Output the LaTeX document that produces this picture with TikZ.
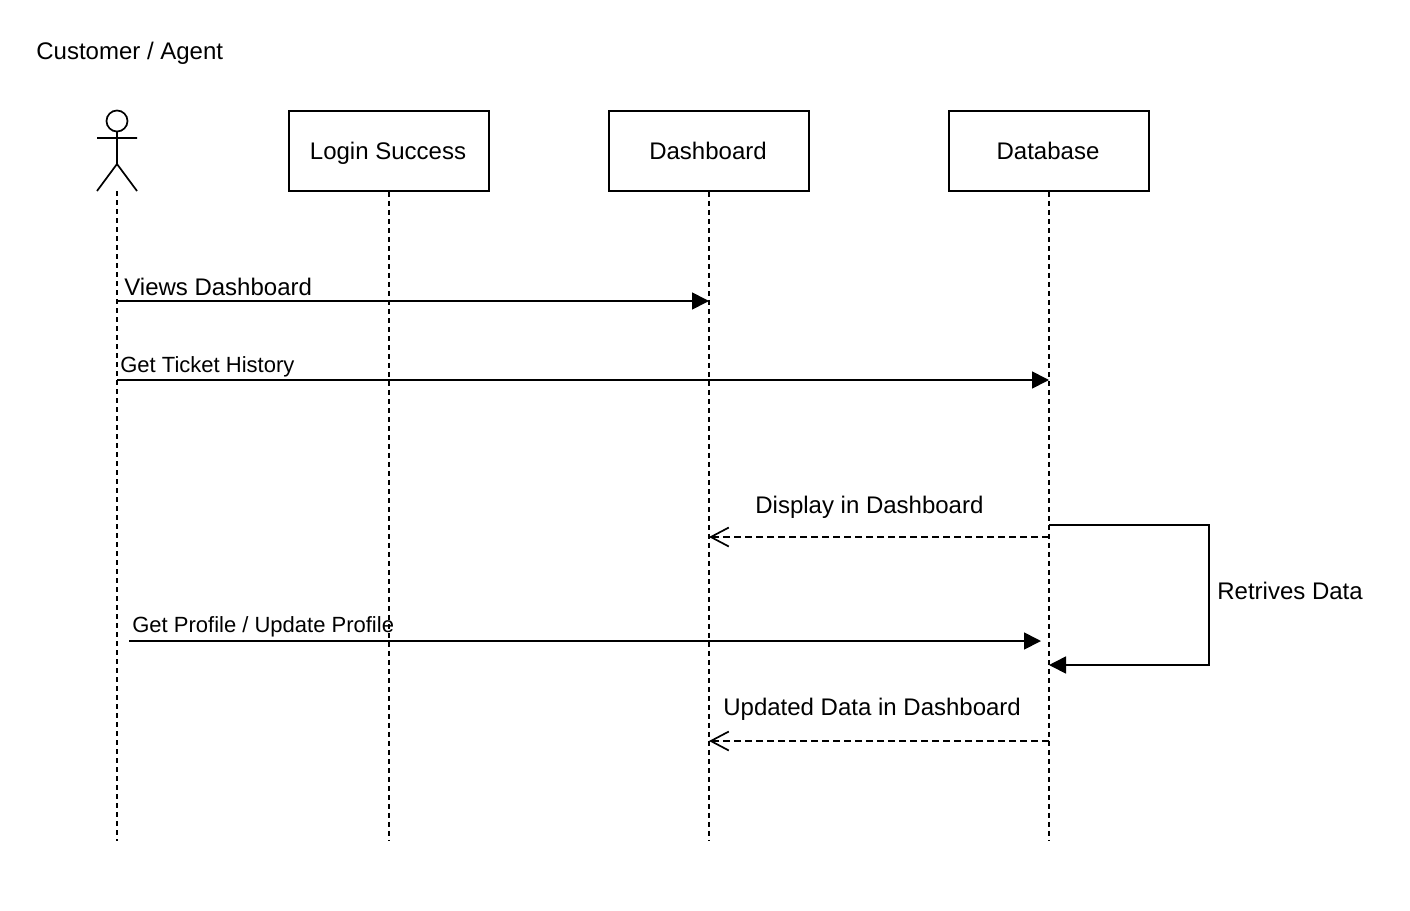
\documentclass[tikz,border=0pt]{standalone}
\usepackage{fontspec}
\setmainfont{Liberation Sans}
\usetikzlibrary{arrows.meta}
\begin{document}
\begin{tikzpicture}[x=1pt,y=-1pt,line width=1.7pt,
 box/.style={draw,minimum width=200pt,minimum height=80pt,inner sep=0pt,text height=17.2pt,text depth=0pt,font=\fontsize{24}{28}\selectfont},
 lab/.style={inner sep=0pt,anchor=base west},
 big/.style={font=\fontsize{24}{28}\selectfont},
 small/.style={font=\fontsize{22}{26}\selectfont},
 life/.style={dash pattern=on 5pt off 4pt},
 msg/.style={-{Triangle[length=17pt,width=17pt]}},
 ret/.style={dash pattern=on 7pt off 4pt,-{Straight Barb[length=18pt,width=19pt,line width=1.7pt]}}]
\useasboundingbox (0,0) rectangle (1410,910);
\node[lab,big] (title) at (35.5,59) {Customer / Agent};
\coordinate (head) at (117,121);
\draw (head) circle (10.5);
\coordinate (neck) at (117,131.5);
\coordinate (hip) at (117,164);
\coordinate (armL) at (97,138);
\coordinate (armR) at (137,138);
\coordinate (footL) at (97,191);
\coordinate (footR) at (137,191);
\coordinate (a) at (117,191);
\draw (neck)--(hip) (armL)--(armR) (footL)--(hip)--(footR);
\node[box] (ls) at (389,151) {\kern-2pt Login Success};
\node[box] (db) at (709,151) {\kern-2pt Dashboard};
\node[box] (dt) at (1049,151) {\kern-2pt Database};
\coordinate (aE) at (117,841);\coordinate (lsE) at (389,841);\coordinate (dbE) at (709,841);\coordinate (dtE) at (1049,841);
\draw[life] (a)--(aE) (ls.south)--(lsE) (db.south)--(dbE) (dt.south)--(dtE);
\coordinate (m1a) at (117,301);\coordinate (m1b) at (709,301);
\draw[msg] (m1a)--(m1b);
\node[lab,big] (l1) at (123.5,295) {Views Dashboard};
\coordinate (m2a) at (117,380);\coordinate (m2b) at (1049,380);
\draw[msg] (m2a)--(m2b);
\node[lab,small] (l2) at (119.5,372) {Get Ticket History};
\coordinate (m3a) at (1049,537);\coordinate (m3b) at (709,537);
\draw[ret] (m3a)--(m3b);
\node[lab,big] (l3) at (754.5,513) {Display in Dashboard};
\coordinate (s1) at (1049,525);\coordinate (s2) at (1209,525);\coordinate (s3) at (1209,665);\coordinate (s4) at (1049,665);
\draw[msg] (s1)--(s2)--(s3)--(s4);
\node[lab,big] (l4) at (1216.5,599) {Retrives Data};
\coordinate (m5a) at (129,641);\coordinate (m5b) at (1041,641);
\draw[msg] (m5a)--(m5b);
\node[lab,small] (l5) at (131.5,632) {Get Profile / Update Profile};
\coordinate (m6a) at (1049,741);\coordinate (m6b) at (709,741);
\draw[ret] (m6a)--(m6b);
\node[lab,big] (l6) at (722.5,715) {Updated Data in Dashboard};
\end{tikzpicture}
\end{document}
